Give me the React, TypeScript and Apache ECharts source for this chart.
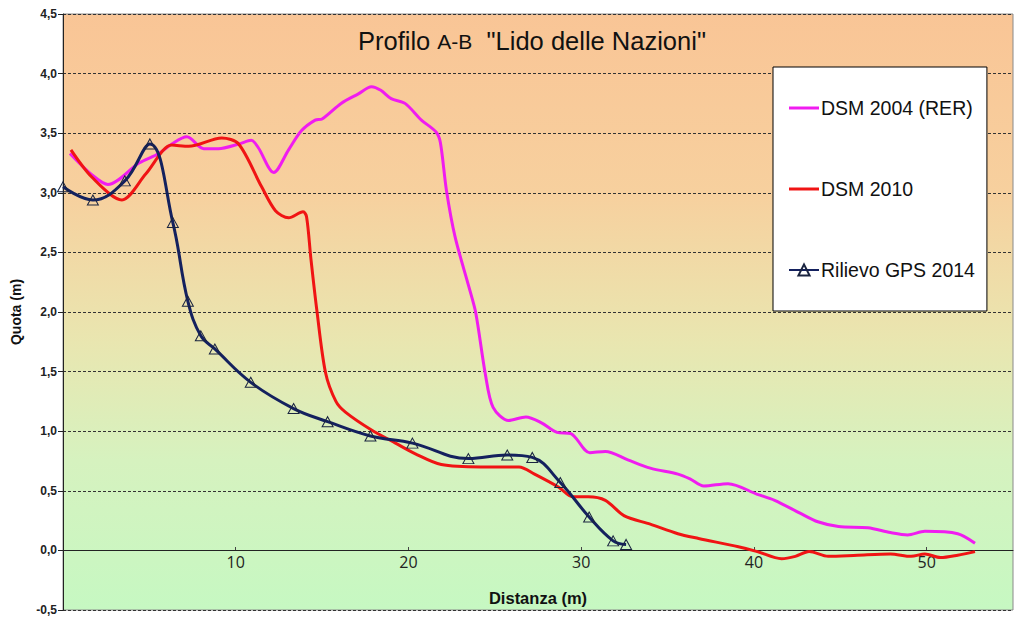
import React, { useEffect, useRef } from "react";
import * as echarts from "echarts";

const dsm2004X = [0.4, 1.68, 2.6, 4.4, 5.55, 6.3, 7.17, 8.15, 9.0, 10.2, 10.9, 11.3, 12.2, 13.06, 13.8, 14.6, 15.0, 16.1, 17.1, 17.86, 18.4, 19.0, 19.8, 20.75, 21.6, 21.85, 22.2, 22.7, 23.5, 23.9, 24.45, 24.9, 25.8, 26.8, 27.7, 28.6, 29.4, 30.5, 31.4, 32.7, 34.0, 35.6, 36.3, 37.1, 38.5, 40.2, 41.2, 42.7, 43.7, 44.9, 46.6, 47.9, 48.9, 49.9, 51.8, 52.8];
const dsm2004Y = [3.33, 3.15, 3.07, 3.25, 3.33, 3.41, 3.47, 3.37, 3.37, 3.41, 3.44, 3.38, 3.17, 3.36, 3.52, 3.61, 3.62, 3.75, 3.83, 3.89, 3.86, 3.79, 3.75, 3.61, 3.51, 3.42, 3.02, 2.63, 2.21, 1.99, 1.48, 1.2, 1.09, 1.12, 1.07, 0.99, 0.98, 0.82, 0.83, 0.76, 0.69, 0.64, 0.6, 0.54, 0.56, 0.47, 0.42, 0.31, 0.24, 0.2, 0.19, 0.15, 0.13, 0.16, 0.14, 0.06];

const dsm2010X = [0.46, 1.68, 3.41, 4.8, 6.3, 7.28, 9.19, 10.17, 11.5, 12.3, 13.06, 13.9, 14.1, 14.35, 14.7, 15.2, 15.8, 16.35, 17.86, 19.25, 20.4, 21.9, 24.2, 26.4, 27.3, 28.7, 29.5, 30.4, 31.4, 32.5, 34.0, 35.6, 36.8, 39.1, 40.2, 41.6, 42.4, 43.2, 44.3, 46.0, 47.9, 49.1, 49.9, 50.8, 51.8, 52.8];
const dsm2010Y = [3.36, 3.13, 2.94, 3.16, 3.4, 3.39, 3.46, 3.41, 3.05, 2.85, 2.79, 2.84, 2.8, 2.45, 2.01, 1.49, 1.25, 1.16, 1.01, 0.9, 0.81, 0.72, 0.7, 0.7, 0.64, 0.53, 0.45, 0.45, 0.42, 0.29, 0.22, 0.14, 0.1, 0.03, -0.01, -0.07, -0.05, -0.01, -0.05, -0.04, -0.03, -0.05, -0.03, -0.06, -0.04, -0.01];

const gpsX = [0, 1.73, 3.58, 5.03, 6.36, 7.23, 7.98, 8.79, 10.87, 13.35, 15.32, 17.8, 20.23, 23.47, 25.72, 27.17, 28.79, 30.46, 31.85, 32.6];
const gpsY = [3.05, 2.94, 3.1, 3.41, 2.75, 2.09, 1.8, 1.69, 1.41, 1.19, 1.08, 0.96, 0.9, 0.77, 0.8, 0.78, 0.57, 0.28, 0.08, 0.05];

const seriesNames = ["DSM 2004 (RER)", "DSM 2010", "Rilievo GPS 2014"];
const titleText = 'Profilo {s|A-B}  "Lido delle Nazioni"';
const xAxisName = "Distanza (m)";
const yAxisName = "Quota (m)";

const pairs = (xs: number[], ys: number[]) => xs.map((x, i) => [x, ys[i]]);
const lineIcon = "path://M0,0L30,0L30,3L0,3Z";

export default function App() {
  const ref = useRef<HTMLDivElement>(null);
  useEffect(() => {
    if (!ref.current) return;
    const chart = echarts.init(ref.current, undefined, { renderer: "svg" });
    const font = "'Liberation Sans', Arial, sans-serif";
    chart.setOption({
      animation: false,
      backgroundColor: "#ffffff",
      title: {
        text: titleText,
        left: 353,
        top: 23,
        textStyle: {
          fontFamily: font,
          fontSize: 25.5,
          fontWeight: "normal",
          color: "#111",
          rich: { s: { fontFamily: font, fontSize: 21, color: "#111" } },
        },
      },
      legend: {
        orient: "vertical",
        left: 773,
        top: 67,
        padding: [30, 12, 30, 15],
        itemGap: 59,
        itemWidth: 30,
        itemHeight: 14,
        backgroundColor: "#ffffff",
        borderColor: "#000",
        borderWidth: 1,
        data: [
          { name: seriesNames[0], icon: lineIcon },
          { name: seriesNames[1], icon: lineIcon },
          { name: seriesNames[2] },
        ],
        textStyle: {
          fontFamily: font,
          fontSize: 19.5,
          color: "#111",
          lineHeight: 22,
          padding: [0, 0, 0, -3],
        },
      },
      grid: {
        left: 63,
        top: 14,
        right: 10,
        bottom: 13,
        outerBoundsMode: "none",
        containLabel: false,
        show: true,
        borderColor: "#8a8a8a",
        borderWidth: 1,
        backgroundColor: {
          type: "linear",
          x: 0,
          y: 0,
          x2: 0,
          y2: 1,
          colorStops: [
            { offset: 0, color: "#f9c596" },
            { offset: 0.3, color: "#f7d09e" },
            { offset: 0.55, color: "#e9e6b0" },
            { offset: 0.75, color: "#d6f2bf" },
            { offset: 1, color: "#c6f8c2" },
          ],
        },
      },
      xAxis: {
        type: "value",
        min: 0,
        max: 55,
        interval: 10,
        position: "bottom",
        offset: -60,
        name: xAxisName,
        nameLocation: "middle",
        nameGap: 39,
        nameTextStyle: { fontFamily: font, fontSize: 16.5, fontWeight: "bold", color: "#111" },
        axisLine: { onZero: false, lineStyle: { color: "#222", width: 1 } },
        axisTick: { show: true, inside: true, length: 3, lineStyle: { color: "#444" } },
        axisLabel: {
          showMinLabel: false,
          showMaxLabel: false,
          fontFamily: "'Open Sans', sans-serif",
          fontSize: 16,
          color: "#222",
          margin: 4,
        },
        splitLine: { show: false },
      },
      yAxis: {
        type: "value",
        min: -0.5,
        max: 4.5,
        interval: 0.5,
        name: yAxisName,
        nameLocation: "middle",
        nameGap: 40,
        nameTextStyle: { fontFamily: font, fontSize: 14, fontWeight: "bold", color: "#111" },
        axisLine: { show: true, onZero: false, lineStyle: { color: "#222", width: 1 } },
        axisTick: { show: true, length: 5, lineStyle: { color: "#222" } },
        axisLabel: {
          fontFamily: font,
          fontSize: 12,
          fontWeight: "bold",
          color: "#222",
          margin: 6,
          formatter: (v: number) => v.toFixed(1).replace(".", ","),
        },
        splitLine: { show: true, lineStyle: { color: "#333", type: [3, 2], width: 1 } },
      },
      series: [
        {
          name: seriesNames[0],
          type: "line",
          smooth: 0.3,
          symbol: "none",
          data: pairs(dsm2004X, dsm2004Y),
          lineStyle: { color: "#f01cf0", width: 3 },
          itemStyle: { color: "#f01cf0" },
        },
        {
          name: seriesNames[1],
          type: "line",
          smooth: 0.3,
          symbol: "none",
          data: pairs(dsm2010X, dsm2010Y),
          lineStyle: { color: "#f01414", width: 3 },
          itemStyle: { color: "#f01414" },
        },
        {
          name: seriesNames[2],
          type: "line",
          smooth: 0.4,
          symbol: "triangle",
          symbolSize: [11, 10],
          showSymbol: true,
          data: pairs(gpsX, gpsY),
          lineStyle: { color: "#14215e", width: 3 },
          itemStyle: { color: "rgba(255,255,255,0)", borderColor: "#1a2440", borderWidth: 1 },
          z: 3,
        },
      ],
    });
    return () => chart.dispose();
  }, []);
  return (
    <div
      ref={ref}
      style={{ position: "fixed", left: 0, top: 0, width: 1023, height: 623 }}
    />
  );
}
